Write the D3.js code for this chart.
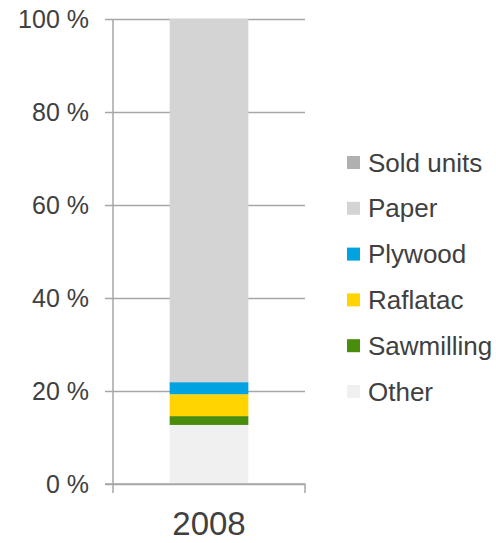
<!DOCTYPE html>
<html>
<head>
<meta charset="utf-8">
<script src="https://cdn.jsdelivr.net/npm/d3@7"></script>
<style>
  html, body { margin: 0; padding: 0; background: #fff; }
  svg { display: block; font-family: "Liberation Sans", Arial, sans-serif; }
</style>
</head>
<body>
<svg id="chart" width="496" height="543"></svg>
<script>
  var years = ['2008'];
  var segments = ['Other', 'Sawmilling', 'Raflatac', 'Plywood', 'Paper', 'Sold units'];
  var shares = {
    '2008': { 'Other': 12.7, 'Sawmilling': 1.9, 'Raflatac': 4.7, 'Plywood': 2.6, 'Paper': 78.1, 'Sold units': 0 }
  };
  var colors = ['#f0f0f0', '#4a8c0c', '#ffd400', '#00a3e0', '#d4d4d4', '#b0b0b0'];
  var yTicks = [0, 20, 40, 60, 80, 100];

  (function() {
    'use strict';
    var $svg = d3.select('#chart');
    var left = 113, right = 305, plotTop = 19, bottom = 484;

    var xScale = d3.scaleBand().domain(years).range([left, right]).paddingInner(0.59).paddingOuter(0.295);
    var yScale = d3.scaleLinear().domain([0, 100]).range([bottom, plotTop]);
    var color = d3.scaleOrdinal().domain(segments).range(colors);

    var rows = years.map(function(y) {
      var r = { year: y };
      segments.forEach(function(s) { r[s] = shares[y][s]; });
      return r;
    });
    var stacked = d3.stack().keys(segments)(rows);

    // gridlines + y labels
    var yAxis = d3.axisLeft(yScale).tickValues(yTicks).tickSize(-(right - left)).tickPadding(24)
      .tickFormat(function(d) { return d + ' %'; });
    var gy = $svg.append('g').attr('transform', 'translate(' + left + ',0)').call(yAxis);
    gy.select('.domain').remove();
    gy.selectAll('.tick line').attr('x1', -8).attr('stroke', '#a6a6a6').attr('stroke-width', 1.5);
    gy.selectAll('.tick text').attr('fill', '#404040').style('font-size', '25px');

    // bars
    $svg.append('g').selectAll('g')
      .data(stacked)
      .enter()
      .append('g')
      .attr('fill', function(d) { return color(d.key); })
      .selectAll('rect')
      .data(function(d) { return d; })
      .enter()
      .append('rect')
      .attr('x', function(d) { return xScale(d.data.year); })
      .attr('y', function(d) { return yScale(d[1]); })
      .attr('width', xScale.bandwidth())
      .attr('height', function(d) { return yScale(d[0]) - yScale(d[1]); });

    // y axis line
    $svg.append('line')
      .attr('x1', left).attr('x2', left).attr('y1', plotTop).attr('y2', bottom + 9)
      .attr('stroke', '#a6a6a6').attr('stroke-width', 1.5);

    // x axis
    var xAxis = d3.axisBottom(xScale).tickSize(0).tickPadding(28);
    var gx = $svg.append('g').attr('transform', 'translate(0,' + bottom + ')').call(xAxis);
    gx.select('.domain').attr('d', 'M' + (left - 8) + ',0H' + right + 'V9').attr('stroke', '#a6a6a6').attr('stroke-width', 1.5);
    gx.selectAll('.tick text').attr('fill', '#404040').style('font-size', '33px');

    // legend
    var legendItems = segments.slice().reverse();
    var legend = $svg.append('g').attr('transform', 'translate(347,156)');
    var item = legend.selectAll('g')
      .data(legendItems)
      .enter()
      .append('g')
      .attr('transform', function(d, i) { return 'translate(0,' + (i * 45.8) + ')'; });
    item.append('rect')
      .attr('width', 13).attr('height', 13)
      .attr('fill', function(d) { return color(d); });
    item.append('text')
      .attr('x', 21).attr('y', 6.5).attr('dy', '0.35em')
      .attr('fill', '#404040').style('font-size', '26px')
      .text(function(d) { return d; });
  })();
</script>
</body>
</html>
